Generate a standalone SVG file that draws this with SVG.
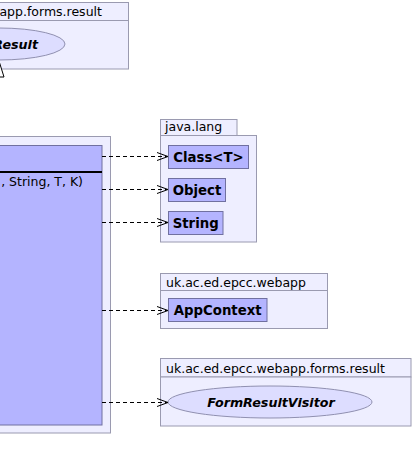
<svg xmlns="http://www.w3.org/2000/svg" width="414" height="472" viewBox="0 0 414 472">
<style>
text{font-family:"DejaVu Sans",sans-serif;font-size:12.5px;fill:#000}
.pkg{fill:#EEEEFF;stroke:#9A9AB0;stroke-width:1}
.cls{fill:#B4B4FF;stroke:#7070A0;stroke-width:1}
.ell{fill:#DDDDFF;stroke:#9090B0;stroke-width:1}
.b{font-weight:bold;font-size:13.3px}
.bi{font-weight:bold;font-style:italic;font-size:12.7px}
.dash{stroke:#000;stroke-width:1;fill:none;stroke-dasharray:4,3}
.head{stroke:#000;stroke-width:1;fill:none}
</style>
<rect width="414" height="472" fill="#fff"/>
<g id="pkg-top">
<rect class="pkg" x="-140" y="2.5" width="268.5" height="18"/>
<rect class="pkg" x="-140" y="20.5" width="268.5" height="48.5"/>
<text x="-117" y="16">uk.ac.ed.epcc.webapp.forms.result</text>
<g id="FormResult">
<ellipse class="ell" cx="-1" cy="44" rx="66" ry="16"/>
<text class="bi" x="38" y="49" text-anchor="end">FormResult</text>
</g>
</g>
<g id="pkg-main">
<rect class="pkg" x="-20" y="136.5" width="130.5" height="296.5"/>
<g id="MainClass">
<rect class="cls" x="-20" y="145.5" width="122" height="279.5"/>
<line x1="-20" y1="172" x2="102" y2="172" stroke="#000" stroke-width="2"/>
<text x="83" y="186" text-anchor="end">, String, T, K)</text>
</g>
</g>
<g id="pkg-java-lang">
<rect class="pkg" x="160.5" y="119.5" width="76.5" height="16"/>
<rect class="pkg" x="160.5" y="135.5" width="96" height="106.5"/>
<text x="165" y="131">java.lang</text>
<g id="Class"><rect class="cls" x="168.5" y="145.5" width="80" height="23"/><text class="b" x="208.5" y="161.5" text-anchor="middle">Class&lt;T&gt;</text></g>
<g id="Object"><rect class="cls" x="168.5" y="178.5" width="57" height="23"/><text class="b" x="197" y="194.5" text-anchor="middle">Object</text></g>
<g id="String"><rect class="cls" x="168.5" y="211.5" width="54.5" height="23"/><text class="b" x="195.7" y="227.5" text-anchor="middle">String</text></g>
</g>
<g id="pkg-webapp">
<rect class="pkg" x="160.5" y="273.5" width="167" height="17"/>
<rect class="pkg" x="160.5" y="290.5" width="167" height="38"/>
<text x="166" y="286.5">uk.ac.ed.epcc.webapp</text>
<g id="AppContext"><rect class="cls" x="168.5" y="298.5" width="98.5" height="23"/><text class="b" x="217.7" y="314.5" text-anchor="middle">AppContext</text></g>
</g>
<g id="pkg-result">
<rect class="pkg" x="160.5" y="358.5" width="250.5" height="18.5"/>
<rect class="pkg" x="160.5" y="377" width="250.5" height="49"/>
<text x="166" y="372.5">uk.ac.ed.epcc.webapp.forms.result</text>
<g id="FormResultVisitor">
<ellipse class="ell" cx="270" cy="402" rx="102" ry="16"/>
<text class="bi" x="271" y="407" text-anchor="middle">FormResultVisitor</text>
</g>
</g>
<g id="connectors">
<line x1="-1" y1="145" x2="-1" y2="77" stroke="#000"/>
<polygon points="-1,61 -6,77 4,77" fill="#fff" stroke="#000"/>
<line class="dash" x1="102" y1="156.5" x2="167" y2="156.5"/>
<polyline class="head" points="157,152.5 168,156.5 157,160.5"/>
<line class="dash" x1="102" y1="189.5" x2="167" y2="189.5"/>
<polyline class="head" points="157,185.5 168,189.5 157,193.5"/>
<line class="dash" x1="102" y1="222.5" x2="167" y2="222.5"/>
<polyline class="head" points="157,218.5 168,222.5 157,226.5"/>
<line class="dash" x1="102" y1="310.5" x2="167" y2="310.5"/>
<polyline class="head" points="157,306.5 168,310.5 157,314.5"/>
<line class="dash" x1="102" y1="402.5" x2="167" y2="402.5"/>
<polyline class="head" points="157,398.5 168,402.5 157,406.5"/>
</g>
</svg>
